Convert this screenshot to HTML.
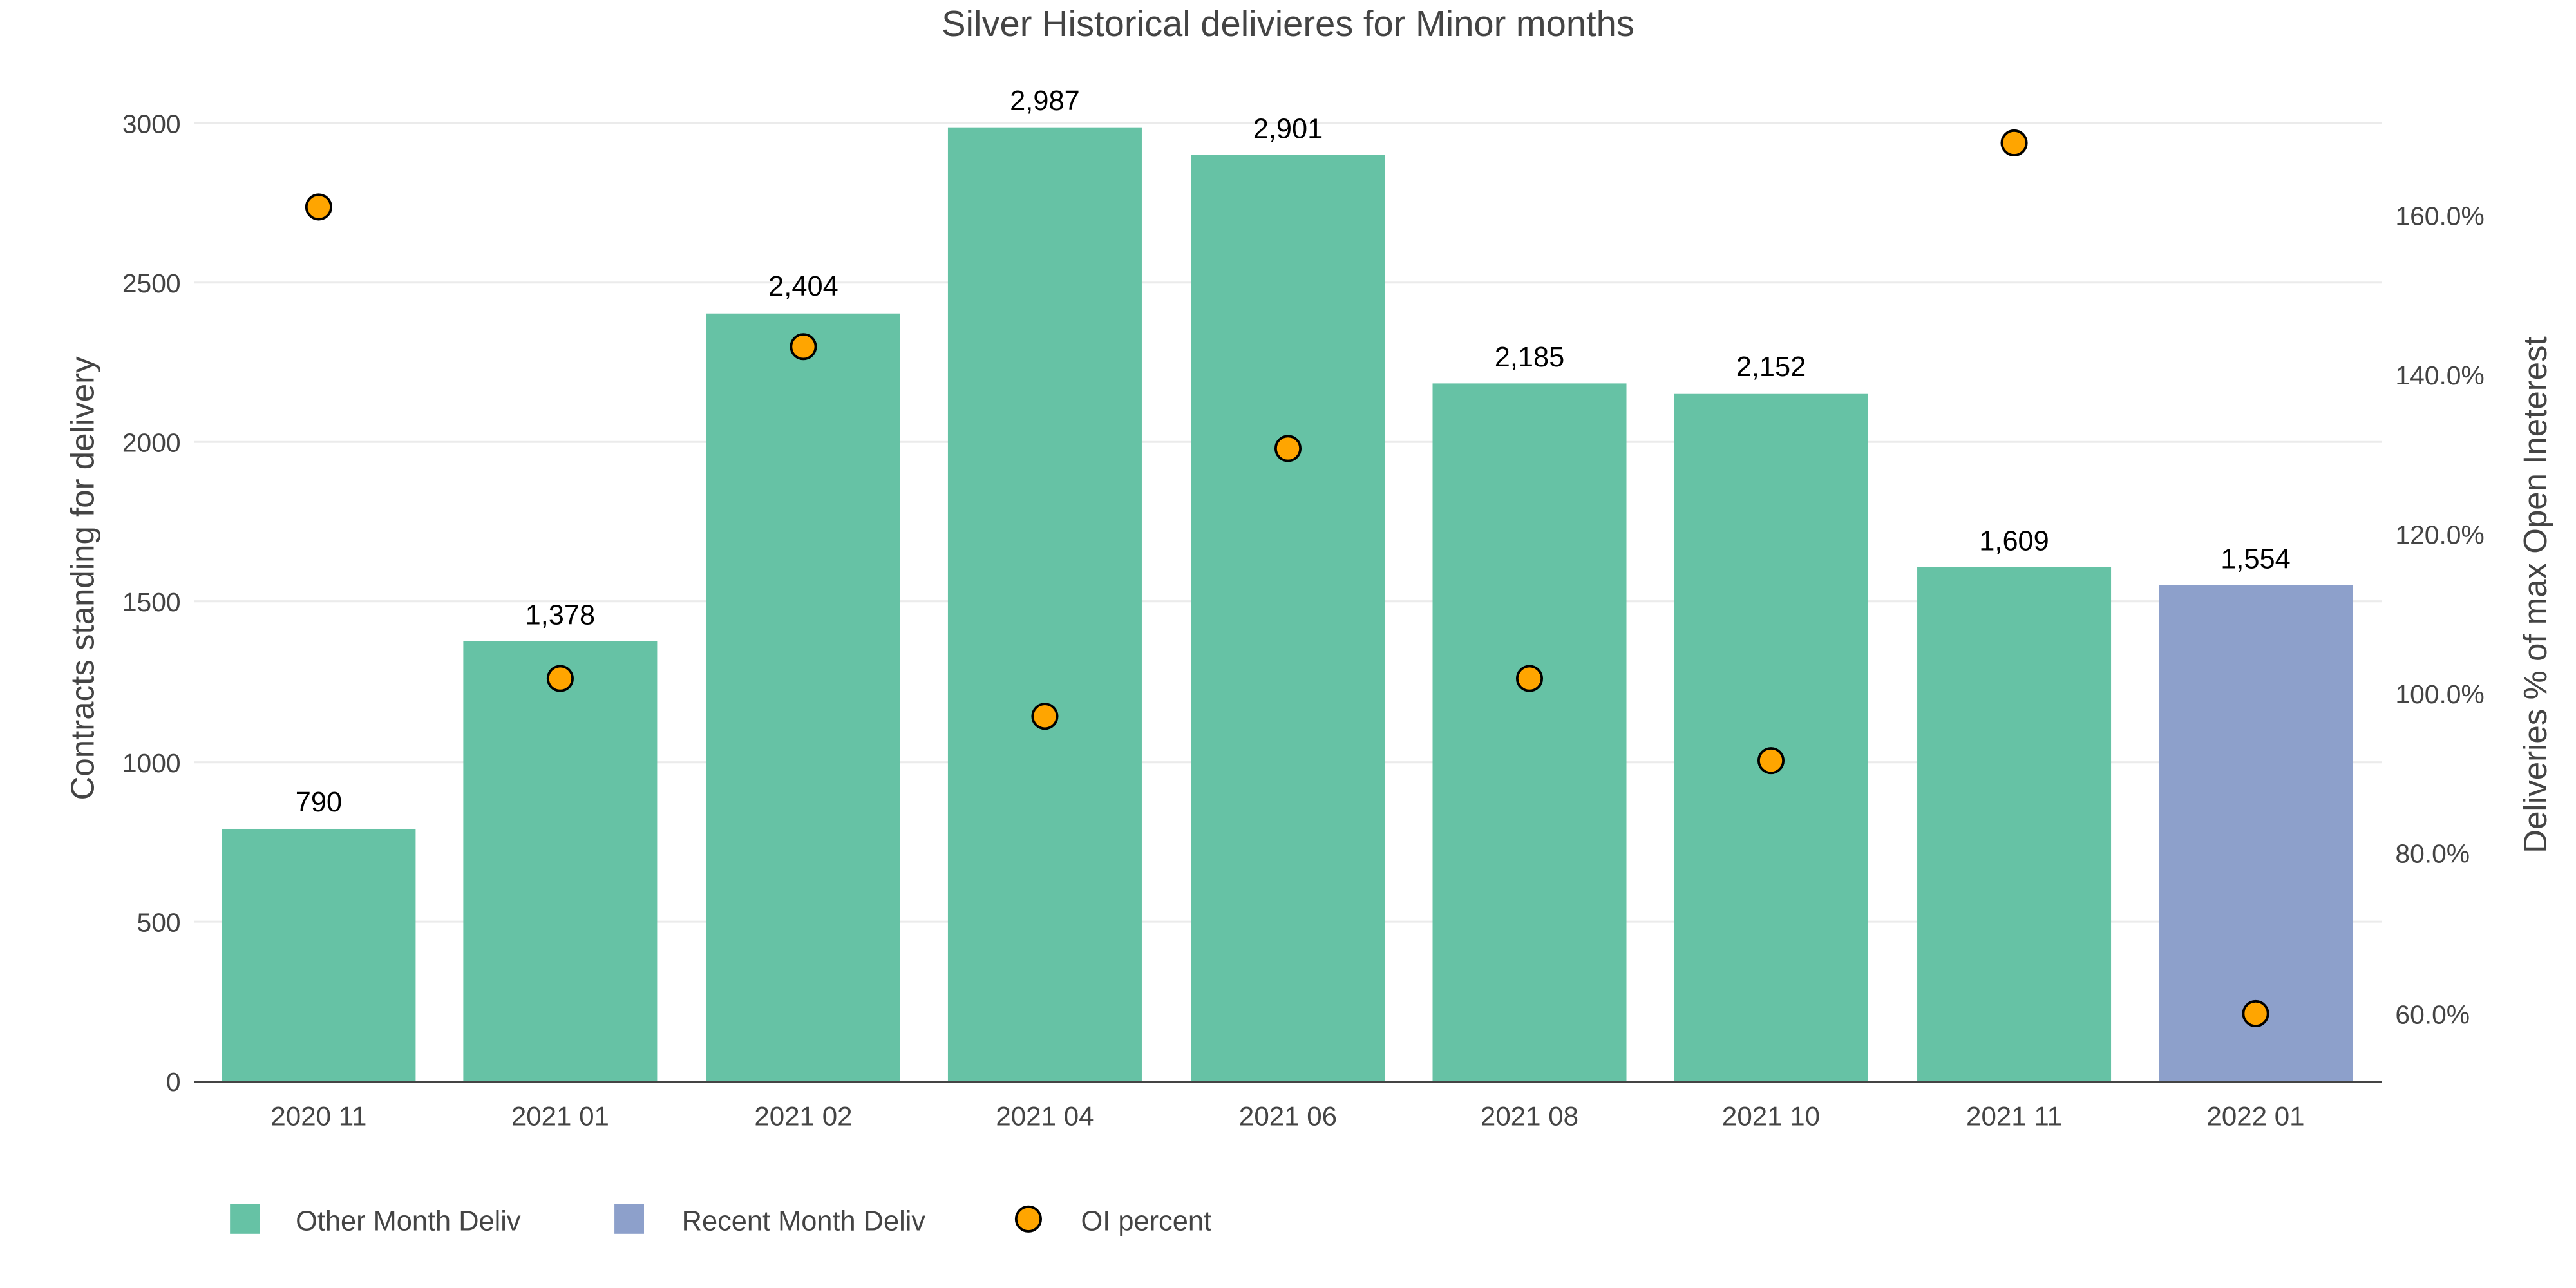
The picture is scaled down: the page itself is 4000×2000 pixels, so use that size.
<!DOCTYPE html>
<html><head><meta charset="utf-8"><style>html,body{margin:0;padding:0;background:#fff}svg{display:block}</style></head>
<body>
<svg width="4000" height="2000" viewBox="0 0 1568 784" xmlns="http://www.w3.org/2000/svg" font-family="Liberation Sans, sans-serif">
<rect width="1568" height="784" fill="#fff"/>
<text x="784" y="22" text-anchor="middle" font-size="22" fill="#444">Silver Historical delivieres for Minor months</text>
<g stroke="#ebebeb" stroke-width="1.2">
<line x1="118" x2="1450" y1="75" y2="75"/><line x1="118" x2="1450" y1="172" y2="172"/>
<line x1="118" x2="1450" y1="269" y2="269"/><line x1="118" x2="1450" y1="366" y2="366"/>
<line x1="118" x2="1450" y1="464" y2="464"/><line x1="118" x2="1450" y1="561" y2="561"/>
</g>
<g font-size="16" fill="#444" text-anchor="end">
<text x="110" y="81">3000</text><text x="110" y="178">2500</text><text x="110" y="275">2000</text>
<text x="110" y="372">1500</text><text x="110" y="470">1000</text><text x="110" y="567">500</text><text x="110" y="664">0</text>
</g>
<g font-size="16" fill="#444">
<text x="1458" y="137">160.0%</text><text x="1458" y="234">140.0%</text><text x="1458" y="331">120.0%</text>
<text x="1458" y="428">100.0%</text><text x="1458" y="525">80.0%</text><text x="1458" y="623">60.0%</text>
</g>
<text transform="translate(57,352) rotate(-90)" text-anchor="middle" font-size="20" fill="#444">Contracts standing for delivery</text>
<text transform="translate(1550,362) rotate(-90)" text-anchor="middle" font-size="20" fill="#444">Deliveries % of max Open Ineterest</text>
<g fill="#66c2a5">
<rect x="135" y="504.5" width="118" height="153.5"/>
<rect x="282" y="390.2" width="118" height="267.8"/>
<rect x="430" y="190.8" width="118" height="467.2"/>
<rect x="577" y="77.5" width="118" height="580.5"/>
<rect x="725" y="94.3" width="118" height="563.7"/>
<rect x="872" y="233.4" width="118" height="424.6"/>
<rect x="1019" y="239.8" width="118" height="418.2"/>
<rect x="1167" y="345.3" width="118" height="312.7"/>
</g>
<rect x="1314" y="356" width="118" height="302" fill="#8da0cb"/>
<line x1="118" x2="1450" y1="658.5" y2="658.5" stroke="#444" stroke-width="1.2"/>
<g font-size="17" fill="#000" text-anchor="middle">
<text x="194" y="494">790</text><text x="341" y="380">1,378</text><text x="489" y="180">2,404</text>
<text x="636" y="67">2,987</text><text x="784" y="84">2,901</text><text x="931" y="223">2,185</text>
<text x="1078" y="229">2,152</text><text x="1226" y="335">1,609</text><text x="1373" y="346">1,554</text>
</g>
<g font-size="16.5" fill="#444" text-anchor="middle">
<text x="194" y="685">2020 11</text><text x="341" y="685">2021 01</text><text x="489" y="685">2021 02</text>
<text x="636" y="685">2021 04</text><text x="784" y="685">2021 06</text><text x="931" y="685">2021 08</text>
<text x="1078" y="685">2021 10</text><text x="1226" y="685">2021 11</text><text x="1373" y="685">2022 01</text>
</g>
<g fill="#ffa500" stroke="#000" stroke-width="1.5">
<circle cx="194" cy="126" r="7.5"/><circle cx="341" cy="413" r="7.5"/><circle cx="489" cy="211" r="7.5"/>
<circle cx="636" cy="436" r="7.5"/><circle cx="784" cy="273" r="7.5"/><circle cx="931" cy="413" r="7.5"/>
<circle cx="1078" cy="463" r="7.5"/><circle cx="1226" cy="87" r="7.5"/><circle cx="1373" cy="617" r="7.5"/>
</g>
<rect x="140" y="733" width="18" height="18" fill="#66c2a5"/>
<text x="180" y="749" font-size="17" fill="#444">Other Month Deliv</text>
<rect x="374" y="733" width="18" height="18" fill="#8da0cb"/>
<text x="415" y="749" font-size="17" fill="#444">Recent Month Deliv</text>
<circle cx="626" cy="742" r="7.5" fill="#ffa500" stroke="#000" stroke-width="1.5"/>
<text x="658" y="749" font-size="17" fill="#444">OI percent</text>
</svg>
</body></html>
